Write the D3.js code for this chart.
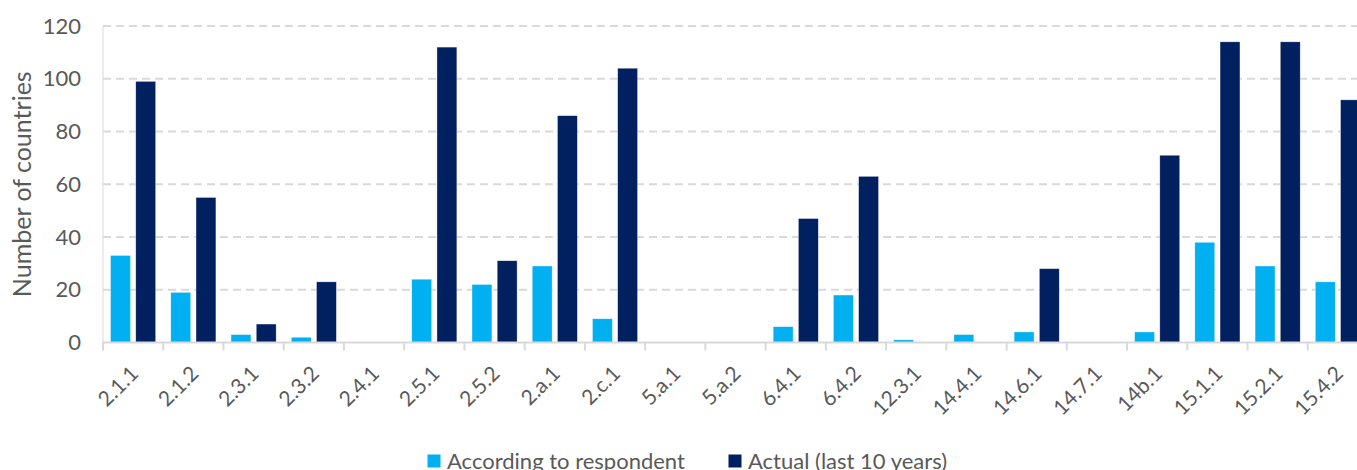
<!DOCTYPE html>
<html>
<head>
<meta charset="utf-8">
<script src="https://cdn.jsdelivr.net/npm/d3@7"></script>
<style>
  html, body { margin: 0; padding: 0; background: #ffffff; }
  svg { display: block; }
  text { font-family: Lato, "Open Sans", sans-serif; fill: #595959; }
</style>
</head>
<body>
<svg id="chart" width="1357" height="470"></svg>
<script>
const categories = ["2.1.1","2.1.2","2.3.1","2.3.2","2.4.1","2.5.1","2.5.2","2.a.1","2.c.1","5.a.1","5.a.2","6.4.1","6.4.2","12.3.1","14.4.1","14.6.1","14.7.1","14b.1","15.1.1","15.2.1","15.4.2"];
const seriesNames = ["According to respondent", "Actual (last 10 years)"];
const respondent = [33,19,3,2,0,24,22,29,9,0,0,6,18,1,3,4,0,4,38,29,23];
const actual = [99,55,7,23,0,112,31,86,104,0,0,47,63,0,0,28,0,71,114,114,92];
const yTicks = [0,20,40,60,80,100,120];
const colors = ["#00B0F0", "#002060"];

const svg = d3.select("#chart");
const mLeft = 103, mRight = 1368, mTop = 26, mBottom = 342.5;

const x0 = d3.scaleBand().domain(categories).range([mLeft, mRight]).paddingInner(0).paddingOuter(0);
const x1 = d3.scaleBand().domain(seriesNames).range([0, x0.bandwidth()]).paddingInner(0.21).paddingOuter(0.3);
const y = d3.scaleLinear().domain([0, 120]).range([mBottom, mTop]);

// gridlines
svg.append("g").selectAll("line").data(yTicks.filter(d => d > 0)).join("line")
  .attr("x1", mLeft).attr("x2", mRight)
  .attr("y1", d => y(d)).attr("y2", d => y(d))
  .attr("stroke", "#D9D9D9").attr("stroke-width", 2).attr("stroke-dasharray", "8,5");

// y axis line
svg.append("line").attr("x1", mLeft).attr("x2", mLeft).attr("y1", y(120)).attr("y2", mBottom)
  .attr("stroke", "#D9D9D9").attr("stroke-width", 1);

// bars
const data = categories.map((c, i) => ({ c, vals: [respondent[i], actual[i]] }));
const groups = svg.append("g").selectAll("g").data(data).join("g")
  .attr("transform", d => `translate(${x0(d.c)},0)`);
groups.selectAll("rect").data(d => d.vals.map((v, k) => ({ v, k }))).join("rect")
  .attr("x", d => x1(seriesNames[d.k]))
  .attr("width", x1.bandwidth())
  .attr("y", d => y(d.v))
  .attr("height", d => mBottom - y(d.v))
  .attr("fill", d => colors[d.k])
  .attr("stroke", "#ffffff").attr("stroke-width", 0.6).attr("stroke-opacity", 0.6);

// x axis
const xAxis = svg.append("g").attr("transform", `translate(0,${mBottom})`);
xAxis.append("line").attr("x1", mLeft).attr("x2", mRight).attr("stroke", "#D9D9D9").attr("stroke-width", 2);
const boundaries = categories.map(c => x0(c)).concat([mRight]);
xAxis.selectAll("line.tick").data(boundaries).join("line").attr("class", "tick")
  .attr("x1", d => d).attr("x2", d => d).attr("y1", 0).attr("y2", 8)
  .attr("stroke", "#D9D9D9").attr("stroke-width", 2);
xAxis.selectAll("text").data(categories).join("text")
  .attr("transform", d => `translate(${x0(d) + x0.bandwidth() / 2 + 6.5},${32.5}) rotate(-45)`)
  .attr("text-anchor", "end")
  .attr("font-size", 21)
  .text(d => d);

// y axis labels
const yAxis = d3.axisLeft(y).tickValues(yTicks).tickSize(0).tickPadding(22);
const ya = svg.append("g").attr("transform", `translate(${mLeft},0)`).call(yAxis);
ya.select(".domain").remove();
ya.selectAll("text").attr("font-size", 22).attr("fill", "#595959").attr("font-family", "Lato, sans-serif");

// y title
svg.append("text")
  .attr("transform", `translate(30.5,${(mTop + mBottom) / 2}) rotate(-90)`)
  .attr("text-anchor", "middle")
  .attr("font-size", 25)
  .text("Number of countries");

// legend
const legendX = [427.5, 728.5];
const leg = svg.append("g").selectAll("g").data(seriesNames).join("g")
  .attr("transform", (d, i) => `translate(${legendX[i]},454.5)`);
leg.append("rect").attr("width", 13).attr("height", 13).attr("fill", (d, i) => colors[i]);
leg.append("text").attr("x", 19.5).attr("y", 14.5).attr("font-size", 22).text(d => d);
</script>
</body>
</html>
